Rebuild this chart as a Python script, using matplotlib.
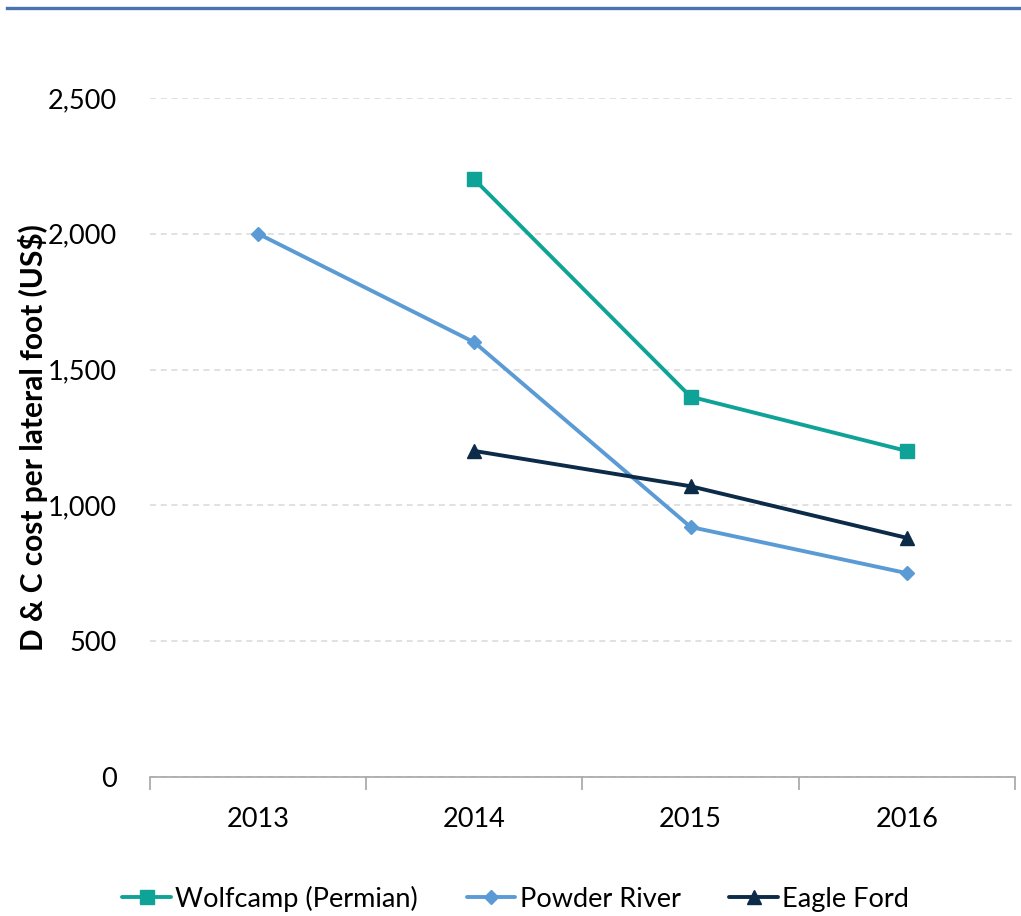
import matplotlib.pyplot as plt
from matplotlib.lines import Line2D

plt.rcParams['font.family'] = ['Lato', 'DejaVu Sans']

years = ['2013', '2014', '2015', '2016']
wolfcamp = [None, 2200, 1400, 1200]
powder_river = [2000, 1600, 920, 750]
eagle_ford = [None, 1200, 1070, 880]
y_ticks = [0, 500, 1000, 1500, 2000, 2500]


def series_xy(values):
    xs = [i for i, v in enumerate(values) if v is not None]
    ys = [v for v in values if v is not None]
    return xs, ys


fig = plt.figure(figsize=(10.21, 9.16), dpi=100)
ax = fig.add_axes([0.147, 0.152, 0.847, 0.741])

styles = [
    ('Wolfcamp (Permian)', wolfcamp, '#0FA398', 's', 10),
    ('Powder River', powder_river, '#5B9BD5', 'D', 7.5),
    ('Eagle Ford', eagle_ford, '#0C2B48', '^', 10),
]
for name, vals, color, marker, ms in styles:
    xs, ys = series_xy(vals)
    ax.plot(xs, ys, color=color, lw=2.8, marker=marker, markersize=ms,
            label=name, solid_capstyle='round')

ax.set_xlim(-0.5, 3.5)
ax.set_ylim(0, 2500)
ax.set_yticks(y_ticks)
ax.set_yticklabels([f'{v:,}' for v in y_ticks])
ax.set_xticks([-0.5, 0.5, 1.5, 2.5, 3.5])
ax.set_xticklabels([])
ax.set_xticks(range(len(years)), minor=True)
ax.set_xticklabels(years, minor=True)
ax.tick_params(axis='x', which='major', length=9, color='#A6A6A6', width=1.2)
ax.tick_params(axis='x', which='minor', length=0, pad=22, labelsize=19.5)
ax.tick_params(axis='y', length=0, pad=24, labelsize=19.5)

ax.grid(axis='y', color='#D9D9D9', linestyle=(0, (4, 3)), lw=1.1)
ax.set_axisbelow(True)
for s in ['left', 'right', 'top']:
    ax.spines[s].set_visible(False)
ax.spines['bottom'].set_color('#A6A6A6')
ax.spines['bottom'].set_linewidth(1.2)

ax.set_ylabel('D & C cost per lateral foot (US$)', fontsize=21.5,
              fontweight='bold', labelpad=0)

fig.legend(loc='lower center', bbox_to_anchor=(0.505, -0.022), ncol=3,
           frameon=False, fontsize=19.5, handlelength=1.8, handletextpad=0.15,
           columnspacing=1.8)

fig.add_artist(Line2D([0.007, 1.0], [0.991, 0.991], color='#4A72B0', lw=2.4,
                      transform=fig.transFigure))

fig.savefig('out.png', dpi=100)
